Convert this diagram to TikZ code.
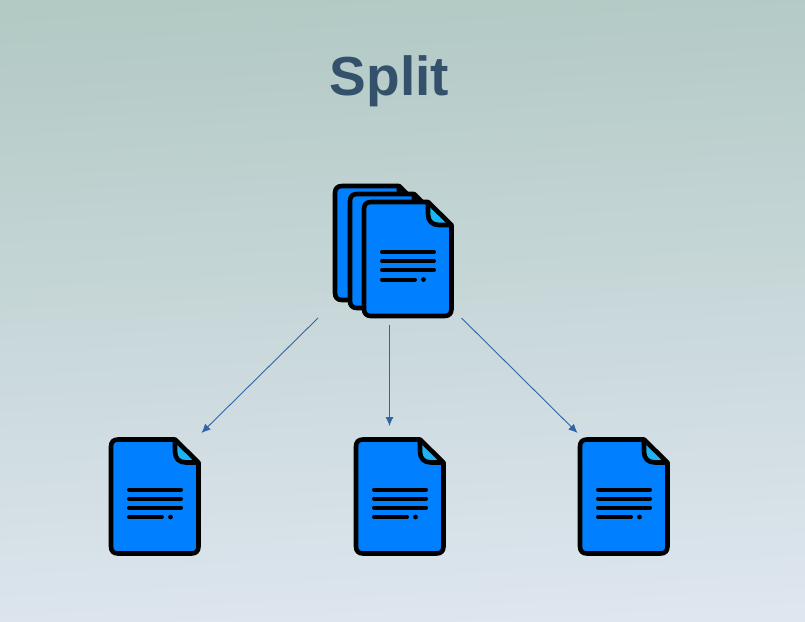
\documentclass[tikz,border=0pt]{standalone}
\usepackage{fontspec}
\setmainfont{Liberation Sans}
\usetikzlibrary{arrows.meta}
\definecolor{docblue}{HTML}{0080FF}
\definecolor{foldblue}{HTML}{1CB4F4}
\definecolor{arrowblue}{HTML}{2F64A6}
\definecolor{titleblue}{HTML}{34516C}
\definecolor{bgtop}{HTML}{B2C9C4}
\definecolor{bgbottom}{HTML}{DEE6EF}
\tikzset{
  x=1pt,y=-1pt,
  outline/.style={draw=black,line width=4.6pt,line join=round},
  textline/.style={black,line width=4pt,line cap=round},
  flow/.style={draw=arrowblue,line width=0.9pt,-{Latex[length=9pt,width=8pt]}},
  anchorbox/.style={inner sep=0pt,minimum width=87.5pt,minimum height=114pt},
  pics/docicon/.style={code={
    \fill[foldblue] (64,0) -- (87.5,23) -- (75,23) .. controls (68,23) and (64,19) .. (64,12) -- cycle;
    \path[fill=docblue] (7,0) -- (64,0) -- (64,12) .. controls (64,19) and (68,23) .. (75,23) -- (87.5,23)
      -- (87.5,107) .. controls (87.5,111.5) and (85,114) .. (80.5,114) -- (7,114)
      .. controls (2.5,114) and (0,111.5) .. (0,107) -- (0,7) .. controls (0,2.5) and (2.5,0) .. (7,0) -- cycle;
    \draw[outline] (7,0) -- (64,0) -- (87.5,23) -- (87.5,107) .. controls (87.5,111.5) and (85,114) .. (80.5,114)
      -- (7,114) .. controls (2.5,114) and (0,111.5) .. (0,107) -- (0,7) .. controls (0,2.5) and (2.5,0) .. (7,0) -- cycle;
    \draw[outline] (64,0) -- (64,12) .. controls (64,19) and (68,23) .. (75,23) -- (87.5,23);
    \draw[textline] (18,50) -- (70,50);
    \draw[textline] (18,59) -- (70,59);
    \draw[textline] (18,68) -- (70,68);
    \draw[textline] (18,77.5) -- (51,77.5);
    \fill[black] (59.5,77.5) circle (2.4);
  }}
}
\begin{document}
\begin{tikzpicture}
  \useasboundingbox (0,0) rectangle (805,621);
  \begin{scope}
    \clip (0,0) rectangle (805,621);
    \shade[shading=axis,top color=bgtop,bottom color=bgbottom,shading angle=3] (-20,-5) rectangle (825,626);
  \end{scope}
  \node[anchor=center,text=titleblue,font=\fontsize{55}{60}\selectfont\bfseries] (title) at (389.5,81) {Split};

  \pic at (335,186) {docicon};
  \pic at (350,194) {docicon};
  \pic at (364,202) {docicon};
  \pic at (111,439.5) {docicon};
  \pic at (356,439.5) {docicon};
  \pic at (580,439.5) {docicon};

  \node[anchor=north west,anchorbox] (stack) at (364,202) {};
  \node[anchor=north west,anchorbox] (left) at (111,439.5) {};
  \node[anchor=north west,anchorbox] (mid) at (356,439.5) {};
  \node[anchor=north west,anchorbox] (right) at (580,439.5) {};

  \coordinate (s1) at (318,318);
  \coordinate (s2) at (389.5,325);
  \coordinate (s3) at (461.5,318);
  \coordinate (e1) at (201.5,433);
  \coordinate (e2) at (389.5,426);
  \coordinate (e3) at (577.5,433);
  \draw[flow] (s1) -- (e1);
  \draw[flow] (s2) -- (e2);
  \draw[flow] (s3) -- (e3);
\end{tikzpicture}
\end{document}
